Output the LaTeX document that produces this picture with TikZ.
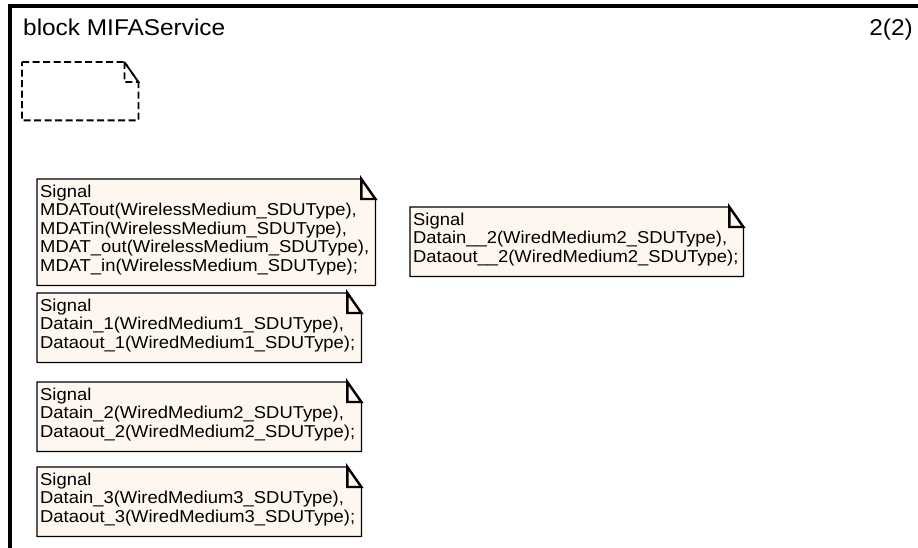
\documentclass[tikz,border=0pt]{standalone}
\usepackage{fontspec}
\setmainfont{Liberation Sans}[FakeStretch=1.07]
\usetikzlibrary{backgrounds}

\definecolor{notebg}{RGB}{253,247,240}

\tikzset{
  signote/.style={anchor=north west, align=left, inner xsep=3pt, inner ysep=0pt,
    text width=#1, font=\fontsize{17.2}{18.5}\selectfont,
    execute at begin node=\rule{0pt}{18pt},
    execute at end node=\rule[-14pt]{0pt}{14pt}},
  signote/.default=318pt,
  noteedge/.style={draw, line width=1.3pt, fill=notebg},
  notefold/.style={draw, line width=2.4pt, line join=miter},
  heading/.style={inner sep=0pt, font=\fontsize{22.8}{24}\selectfont},
}

% text symbol outline with the folded corner top right
\newcommand\notebox[2][]{%
  \draw[noteedge,#1] (#2.north west) -- ([xshift=-14pt]#2.north east)
    -- ([yshift=-20pt]#2.north east) -- (#2.south east) -- (#2.south west) -- cycle;
  \draw[notefold,#1] ([xshift=-14pt]#2.north east) |- ([yshift=-20pt]#2.north east) -- cycle;
}

\begin{document}
\begin{tikzpicture}[x=1pt,y=-1pt]
  \useasboundingbox (0,0) rectangle (918,548);

  % frame
  \draw[line width=4pt] (918,6.5) -- (10,6.5) -- (10,548);
  \node[heading, anchor=base west] (blockname) at (23,36) {block MIFAService};
  \node[heading, anchor=base east] (pagenum) at (913,36) {2(2)};

  % empty text symbol
  \node[anchor=north west, inner sep=0pt, minimum width=116pt, minimum height=58pt] (emptysym) at (22,62) {};
  \notebox[fill=none, line width=1.8pt, dash pattern=on 7pt off 3.5pt]{emptysym}

  % signal declarations
  \node[signote=332pt] (sigwireless) at (37,179) {Signal\\MDATout(WirelessMedium\_SDUType),\\MDATin(WirelessMedium\_SDUType),\\MDAT\_out(WirelessMedium\_SDUType),\\MDAT\_in(WirelessMedium\_SDUType);};
  \node[signote] (sigwiredone) at (37,293) {Signal\\Datain\_1(WiredMedium1\_SDUType),\\Dataout\_1(WiredMedium1\_SDUType);};
  \node[signote] (sigwiredtwo) at (37,382) {Signal\\Datain\_2(WiredMedium2\_SDUType),\\Dataout\_2(WiredMedium2\_SDUType);};
  \node[signote] (sigwiredthree) at (37,467) {Signal\\Datain\_3(WiredMedium3\_SDUType),\\Dataout\_3(WiredMedium3\_SDUType);};
  \node[signote=327pt] (sigwiredb) at (410,207) {Signal\\Datain\_\_2(WiredMedium2\_SDUType),\\Dataout\_\_2(WiredMedium2\_SDUType);};

  \begin{scope}[on background layer]
    \foreach \n in {sigwireless,sigwiredone,sigwiredtwo,sigwiredthree,sigwiredb}
      {\notebox{\n}}
  \end{scope}
\end{tikzpicture}
\end{document}
